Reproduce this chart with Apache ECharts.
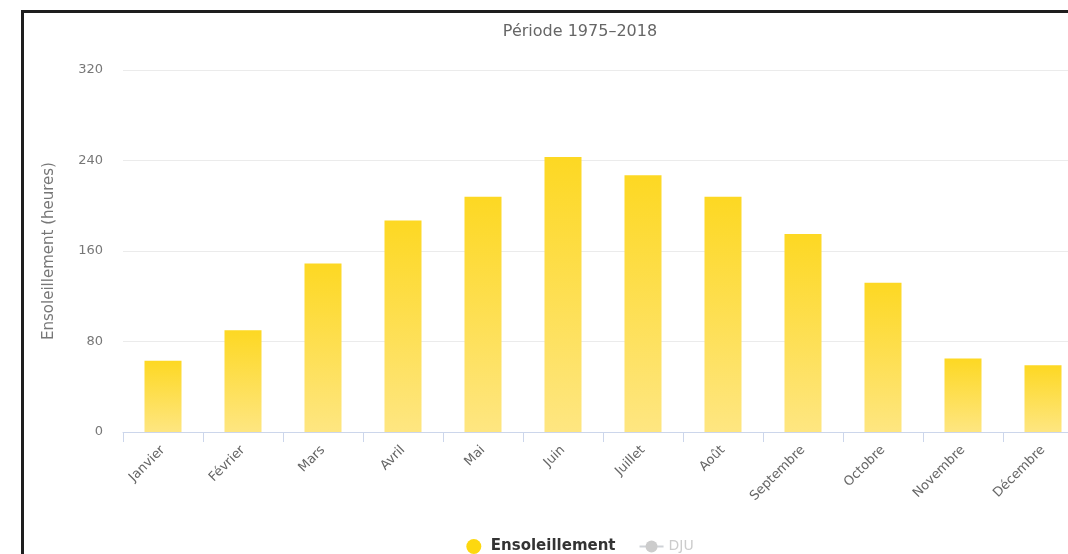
<!DOCTYPE html>
<html>
<head>
<meta charset="utf-8">
<script src="https://cdn.jsdelivr.net/npm/echarts@6/dist/echarts.min.js"></script>
<style>
  html, body { margin: 0; padding: 0; background: #fff; overflow: hidden; width: 1068px; height: 554px; }
  #frame { position: absolute; left: 21px; top: 10px; border-left: 3px solid #1e1e1e; border-top: 3px solid #1e1e1e; }
  #chart { width: 1112px; height: 541px; }
</style>
</head>
<body>
<div id="frame"><div id="chart"></div></div>
<script>
// Monthly sunshine hours, period 1975–2018
const months = ['Janvier', 'Février', 'Mars', 'Avril', 'Mai', 'Juin', 'Juillet', 'Août', 'Septembre', 'Octobre', 'Novembre', 'Décembre'];
const sunshineHours = [63, 90, 149, 187, 208, 243, 227, 208, 175, 132, 65, 59];
const djuValues = []; // heating degree-days series, hidden by default
const yTicks = [0, 80, 160, 240, 320];

const FONT = '"DejaVu Sans", sans-serif';
const chart = echarts.init(document.getElementById('chart'), null, { renderer: 'canvas' });

chart.setOption({
  animation: false,
  title: {
    text: 'Période 1975–2018',
    left: 'center',
    top: 6,
    textStyle: { fontFamily: FONT, fontSize: 16, fontWeight: 'normal', color: '#666' }
  },
  legend: {
    top: 521,
    left: 'center',
    itemGap: 23,
    itemWidth: 24,
    itemHeight: 15,
    inactiveColor: '#cccccc',
    textStyle: { fontFamily: FONT, fontSize: 15, fontWeight: 'bold', color: '#333' },
    selected: { 'DJU': false },
    data: [
      { name: 'Ensoleillement', icon: 'circle', itemStyle: { color: '#FDD80F' } },
      { name: 'DJU', textStyle: { fontWeight: 'normal', fontSize: 14 } }
    ]
  },
  grid: { left: 99, right: 53, top: 57, bottom: 122, containLabel: false },
  xAxis: {
    type: 'category',
    data: months,
    axisLine: { lineStyle: { color: '#ccd6eb', width: 1 } },
    axisTick: { show: true, length: 10, lineStyle: { color: '#ccd6eb' } },
    axisLabel: { rotate: 45, margin: 16, fontFamily: FONT, fontSize: 13, color: '#666' }
  },
  yAxis: {
    type: 'value',
    min: yTicks[0],
    max: yTicks[yTicks.length - 1],
    interval: yTicks[1] - yTicks[0],
    name: 'Ensoleillement (heures)',
    nameLocation: 'middle',
    nameGap: 66,
    nameTextStyle: { fontFamily: FONT, fontSize: 15, color: '#777' },
    axisLine: { show: false },
    axisTick: { show: false },
    axisLabel: { margin: 20, fontFamily: FONT, fontSize: 13, color: '#777' },
    splitLine: { lineStyle: { color: '#ebebeb', width: 1 } }
  },
  series: [
    {
      name: 'Ensoleillement',
      type: 'bar',
      data: sunshineHours,
      barWidth: 37,
      itemStyle: {
        color: new echarts.graphic.LinearGradient(0, 0, 0, 1, [
          { offset: 0, color: '#FDD823' },
          { offset: 1, color: '#FEE681' }
        ])
      }
    },
    {
      name: 'DJU',
      type: 'line',
      data: djuValues,
      symbol: 'circle',
      symbolSize: 6,
      itemStyle: { color: '#999' },
      lineStyle: { color: '#999', width: 2 }
    }
  ]
});
</script>
</body>
</html>
